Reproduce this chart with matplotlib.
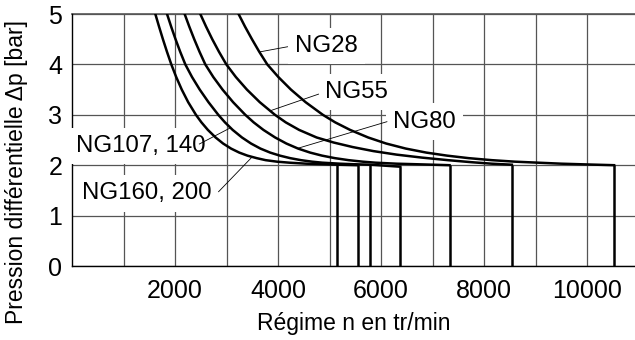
import matplotlib
matplotlib.use("Agg")
import matplotlib.pyplot as plt

plt.rcParams['font.family'] = ['Liberation Sans', 'DejaVu Sans']

# Curves: speed (rpm) and differential pressure (bar)
ng160_200_n = [1618, 1690, 1765, 1844, 1928, 2023, 2131, 2256, 2406, 2513, 2638, 2788,
               2934, 3088, 3248, 3406, 3586, 3760, 3980, 4220, 4550, 4850, 5150, 5545]
ng160_200_p = [5.0, 4.75, 4.5, 4.25, 4.0, 3.75, 3.5, 3.25, 3.0, 2.85, 2.7, 2.55,
               2.43, 2.33, 2.25, 2.19, 2.14, 2.10, 2.07, 2.05, 2.03, 2.02, 2.01, 2.0]

ng107_140_n = [1845, 1925, 2010, 2101, 2200, 2330, 2480, 2650, 2840, 2970, 3120, 3300,
               3476, 3658, 3848, 4036, 4236, 4446, 4660, 4860, 5200, 5450, 5790, 6375]
ng107_140_p = [5.0, 4.75, 4.5, 4.25, 4.0, 3.75, 3.5, 3.25, 3.0, 2.85, 2.7, 2.55,
               2.43, 2.33, 2.25, 2.19, 2.14, 2.10, 2.07, 2.05, 2.03, 2.02, 2.01, 1.97]

ng80_n = [2187, 2277, 2373, 2476, 2588, 2743, 2923, 3128, 3364, 3527, 3717, 3944,
          4162, 4389, 4624, 4854, 5104, 5371, 5644, 5894, 6300, 6650, 7000, 7330]
ng80_p = [5.0, 4.75, 4.5, 4.25, 4.0, 3.75, 3.5, 3.25, 3.0, 2.85, 2.7, 2.55,
          2.43, 2.33, 2.25, 2.19, 2.14, 2.10, 2.07, 2.05, 2.03, 2.02, 2.01, 2.0]

ng55_n = [2491, 2603, 2723, 2854, 2996, 3181, 3396, 3646, 3940, 4150, 4410, 4750,
          5080, 5450, 5850, 6300, 6800, 7300, 7750, 8150, 8540]
ng55_p = [5.0, 4.75, 4.5, 4.25, 4.0, 3.75, 3.5, 3.25, 3.0, 2.85, 2.7, 2.55,
          2.45, 2.36, 2.28, 2.21, 2.15, 2.10, 2.06, 2.03, 2.01]

ng28_n = [3234, 3359, 3494, 3636, 3791, 4006, 4251, 4536, 4870, 5110, 5400, 5750,
          6100, 6480, 6880, 7280, 7700, 8150, 8600, 9050, 9500, 10000, 10525]
ng28_p = [5.0, 4.75, 4.5, 4.25, 4.0, 3.75, 3.5, 3.25, 3.0, 2.85, 2.7, 2.55,
          2.43, 2.33, 2.25, 2.19, 2.14, 2.10, 2.07, 2.05, 2.03, 2.015, 2.0]

# Maximum speeds (vertical drop lines) for each curve
ng160_200_max = [5150, 5545]
ng107_140_max = [5790, 6375]
ng80_max = [7330]
ng55_max = [8540]
ng28_max = [10525]

labels = ["NG160, 200", "NG107, 140", "NG80", "NG55", "NG28"]
label_pos_n = [196, 85, 6242, 4917, 4334]
label_pos_p = [1.442, 2.381, 2.863, 3.458, 4.365]
leader_start_n = [2846, 2472, 6114, 4787, 4185]
leader_start_p = [1.474, 2.42, 2.863, 3.41, 4.35]
leader_end_n = [3494, 3073, 4367, 3849, 3655]
leader_end_p = [2.16, 2.74, 2.33, 3.08, 4.25]

x_ticks = list(range(1000, 11000, 1000))
x_tick_labels = ["" if t % 2000 else str(t) for t in x_ticks]
y_ticks = [0, 1, 2, 3, 4, 5]

fig = plt.figure(figsize=(6.35, 3.4), dpi=100)
ax = fig.add_axes([72 / 635, 74 / 340, 563 / 635, 252 / 340])

curves = [
    (ng160_200_n, ng160_200_p, ng160_200_max),
    (ng107_140_n, ng107_140_p, ng107_140_max),
    (ng80_n, ng80_p, ng80_max),
    (ng55_n, ng55_p, ng55_max),
    (ng28_n, ng28_p, ng28_max),
]
for n, p, maxes in curves:
    ax.plot(n, p, color='black', lw=1.8, zorder=5, solid_joinstyle='round')
    for m in maxes:
        top = p[n.index(m)]
        ax.plot([m, m], [0, top], color='black', lw=1.8, zorder=5, solid_capstyle='butt')

for lab, tx, ty, sx, sy, ex, ey in zip(labels, label_pos_n, label_pos_p,
                                       leader_start_n, leader_start_p,
                                       leader_end_n, leader_end_p):
    ax.text(tx, ty, lab, ha='left', va='center', fontsize=17.3, zorder=3,
            bbox=dict(boxstyle='square,pad=0.3', facecolor='white', edgecolor='none'))
    ax.plot([sx, ex], [sy, ey], color='black', lw=0.6, zorder=4)

ax.set_xlim(0, 10931)
ax.set_ylim(0, 5)
ax.set_xticks(x_ticks)
ax.set_xticklabels(x_tick_labels)
ax.set_yticks(y_ticks)
ax.tick_params(axis='both', length=0, labelsize=18)
ax.tick_params(axis='x', pad=9.5)
ax.tick_params(axis='y', pad=7)
ax.grid(True, color='#555555', lw=0.9, zorder=1)
ax.set_axisbelow(True)
for s in ['top', 'right']:
    ax.spines[s].set_visible(False)
for s in ['left', 'bottom']:
    ax.spines[s].set_color('black')
    ax.spines[s].set_linewidth(1.0)
ax.axhline(5, color='#555555', lw=1.2, zorder=1, clip_on=False)

ax.set_xlabel("Régime n en tr/min", fontsize=16.5)
ax.set_ylabel("Pression différentielle Δp [bar]", fontsize=16.5)
ax.xaxis.set_label_coords((354 - 72) / 563, -(312 - 266) / 252)
ax.yaxis.set_label_coords(-(72 - 28) / 563, (266 - 172) / 252)

fig.savefig("out.png", dpi=100)
